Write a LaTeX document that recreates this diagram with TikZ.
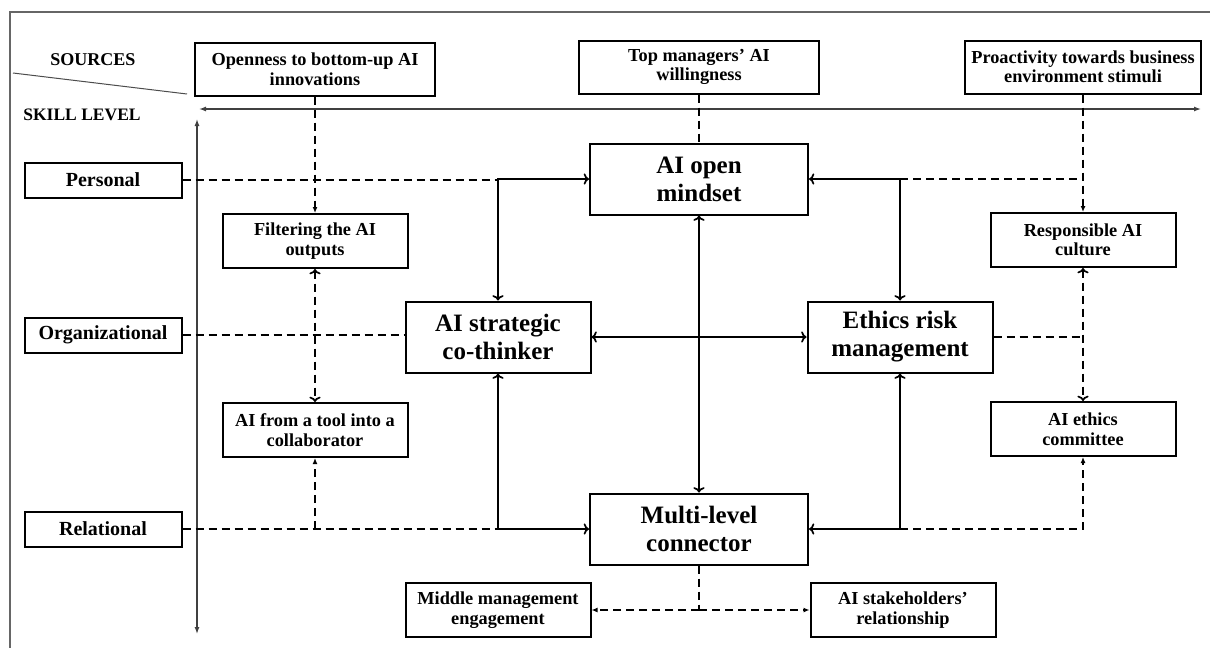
\documentclass[tikz,border=0pt]{standalone}
\usepackage{fontspec}
\setmainfont{Liberation Serif}
\usetikzlibrary{arrows.meta,positioning}

\begin{document}
\begin{tikzpicture}[x=1pt,y=-1pt,
    box/.style={draw,line width=2pt,align=center,inner sep=0pt,font=\bfseries},
    bigbox/.style={box,minimum width=218pt,minimum height=71pt,font=\fontsize{25}{28}\selectfont\bfseries},
    midbox/.style={box,minimum width=185pt,minimum height=71pt,font=\fontsize{25}{28}\selectfont\bfseries},
    srcbox/.style={box,minimum width=240pt,minimum height=53pt,font=\fontsize{18.3}{19.5}\selectfont\bfseries},
    smallbox/.style={box,minimum width=185pt,minimum height=54pt,font=\fontsize{18.3}{19.5}\selectfont\bfseries},
    levelbox/.style={box,minimum width=157pt,minimum height=35pt,font=\fontsize{20}{22}\selectfont\bfseries},
    link/.style={line width=1.7pt,arrows={-Latex[length=6pt,width=5pt]}},
    dashline/.style={line width=1.7pt,dash pattern=on 8pt off 5pt,arrows={-Latex[length=6pt,width=5pt]}},
    axis/.style={line width=1.3pt,draw=black!75,arrows={Latex[length=7pt,width=5pt]-Latex[length=7pt,width=5pt]}}]
  \useasboundingbox (0,0) rectangle (1210,648);
  % frame
  \draw[black!60,line width=1.1pt] (1210,12) -- (10,12) -- (10,648);
  \draw[black!70,line width=1pt] (13,73) -- (187,94);
  \node[font=\fontsize{18}{20}\selectfont\bfseries] (sources) at (93,60) {SOURCES};
  \node[font=\fontsize{17.5}{20}\selectfont\bfseries] (skill) at (82,115) {SKILL LEVEL};

  % axes
  \coordinate (hleft) at (199,109);
  \coordinate (hright) at (1201,109);
  \coordinate (vtop) at (197,119);
  \coordinate (vbot) at (197,634);
  \draw[axis] (hleft) -- (hright);
  \draw[axis] (vtop) -- (vbot);

  % sources
  \node[srcbox] (openness) at (315,69) {Openness to bottom-up AI\\innovations};
  \node[srcbox] (topmgr) at (699,67) {Top managers' AI\\willingness};
  \node[srcbox,minimum width=236pt] (proact) at (1083,67) {Proactivity towards business\\environment stimuli};

  % skill levels
  \node[levelbox] (personal) at (103,180) {Personal};
  \node[levelbox] (organizational) at (103,335) {Organizational};
  \node[levelbox] (relational) at (103,529) {Relational};

  % core
  \node[bigbox] (mindset) at (699,179) {AI open\\mindset};
  \node[midbox] (cothinker) at (498,337) {AI strategic\\co-thinker};
  \node[midbox] (ethics) at (900,337) {Ethics risk\\management};
  \node[bigbox] (connector) at (699,529) {Multi-level\\connector};

  % side boxes
  \node[smallbox] (filtering) at (315,241) {Filtering the AI\\outputs};
  \node[smallbox] (collab) at (315,430) {AI from a tool into a\\collaborator};
  \node[smallbox] (culture) at (1083,240) {Responsible AI\\culture};
  \node[smallbox] (committee) at (1083,429) {AI ethics\\committee};
  \node[smallbox] (middle) at (498,610) {Middle management\\engagement};
  \node[smallbox] (stake) at (903,610) {AI stakeholders'\\relationship};

  % links
  \draw[link,<->] (cothinker) |- (mindset);
  \draw[link,<->] (ethics) |- (mindset);
  \draw[link,<->] (cothinker) |- (connector);
  \draw[link,<->] (ethics) |- (connector);
  \draw[link,<->] (cothinker) -- (ethics);
  \draw[link,<->] (mindset) -- (connector);

  % dashed links
  \draw[dashline,-] (personal) -- (personal -| cothinker);
  \draw[dashline,-] (mindset -| ethics) -- (mindset -| culture);
  \draw[dashline,-] (organizational) -- (organizational -| cothinker.west);
  \draw[dashline,-] (ethics) -- (ethics -| culture);
  \draw[dashline,-] (relational) -- (relational -| cothinker);
  \draw[dashline] (relational -| collab) -- (collab);
  \draw[dashline] (connector -| ethics) -| (committee);
  \draw[dashline] (openness) -- (filtering);
  \draw[dashline,-] (topmgr) -- (mindset);
  \draw[dashline] (proact) -- (culture);
  \draw[dashline,<->] (filtering) -- (collab);
  \draw[dashline,<->] (culture) -- (committee);
  \coordinate (split) at (connector |- middle);
  \draw[dashline,-] (connector) -- (split);
  \draw[dashline] (split) -- (middle);
  \draw[dashline] (split) -- (stake);
\end{tikzpicture}
\end{document}
